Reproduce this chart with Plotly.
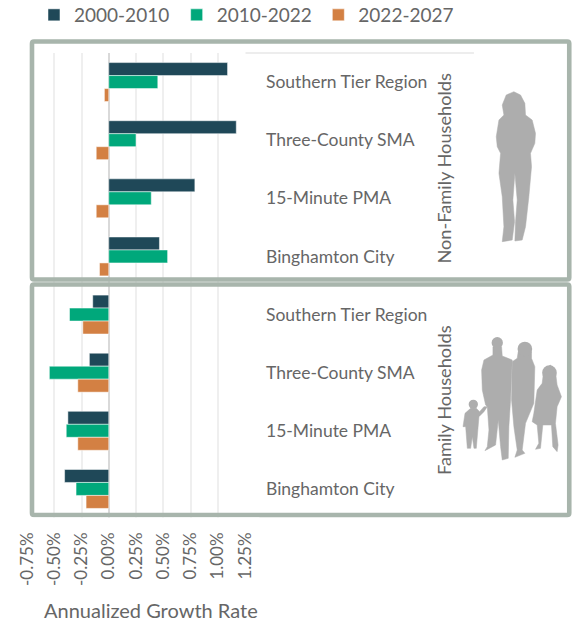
import plotly.graph_objects as go

W, H = 577, 622
L, R, T, B = 27, 245.5, 53, 518

regions = ["Southern Tier Region", "Three-County SMA", "15-Minute PMA", "Binghamton City"]
groups = ["Non-Family Households", "Family Households"]
periods = ["2000-2010", "2010-2022", "2022-2027"]
colors = ["#1F4858", "#00A87B", "#D38043"]

nonfamily_2000_2010 = [1.09, 1.17, 0.79, 0.465]
nonfamily_2010_2022 = [0.45, 0.25, 0.39, 0.54]
nonfamily_2022_2027 = [-0.04, -0.115, -0.115, -0.085]
family_2000_2010 = [-0.147, -0.178, -0.375, -0.405]
family_2010_2022 = [-0.36, -0.545, -0.39, -0.30]
family_2022_2027 = [-0.238, -0.284, -0.284, -0.208]

xticks = [-0.75, -0.5, -0.25, 0, 0.25, 0.5, 0.75, 1.0, 1.25]
xlabels = ["-0.75%", "-0.50%", "-0.25%", "0.00%", "0.25%", "0.50%", "0.75%", "1.00%", "1.25%"]

series = [nonfamily_2000_2010 + family_2000_2010,
          nonfamily_2010_2022 + family_2010_2022,
          nonfamily_2022_2027 + family_2022_2027]
ypos = list(range(8))
ylabels = regions + regions

FONT = "Lato"
TXT = "#666666"
SIL = "#ADADAD"
FRAME = "#A8B5AC"

def px(x): return (x - L) / (R - L)
def py(y): return (B - y) / (B - T)

fig = go.Figure()
legend_ids = ["legend", "legend2", "legend3"]
for name, vals, c, lg in zip(periods, series, colors, legend_ids):
    fig.add_bar(name=name, y=ypos, x=vals, orientation="h", marker_color=c,
                marker_line_color="#FFFFFF", marker_line_width=0.5, legend=lg)

def poly(points, ox, oy):
    pts = [(ox + a / 3, oy + b / 3) for a, b in points]
    return "M" + "L".join(f"{px(a):.4f},{py(b):.4f}" for a, b in pts) + "Z"

def sil(points, ox, oy):
    return dict(type="path", xref="paper", yref="paper", path=poly(points, ox, oy),
                fillcolor=SIL, line=dict(color=SIL, width=0.5))

def head(cx, cy, r, ox, oy):
    return dict(type="circle", xref="paper", yref="paper",
                x0=px(ox + (cx - r) / 3), x1=px(ox + (cx + r) / 3),
                y0=py(oy + (cy + r) / 3), y1=py(oy + (cy - r) / 3),
                fillcolor=SIL, line=dict(color=SIL, width=0))

def frame(x0, y0, x1, y1, r=2):
    a, b, c, d = px(x0), py(y0), px(x1), py(y1)
    rx, ry = r / (R - L), r / (B - T)
    path = (f"M{a+rx:.4f},{b:.4f}L{c-rx:.4f},{b:.4f}Q{c:.4f},{b:.4f} {c:.4f},{b-ry:.4f}"
            f"L{c:.4f},{d+ry:.4f}Q{c:.4f},{d:.4f} {c-rx:.4f},{d:.4f}"
            f"L{a+rx:.4f},{d:.4f}Q{a:.4f},{d:.4f} {a:.4f},{d+ry:.4f}"
            f"L{a:.4f},{b-ry:.4f}Q{a:.4f},{b:.4f} {a+rx:.4f},{b:.4f}Z")
    return dict(type="path", xref="paper", yref="paper", path=path,
                line=dict(color=FRAME, width=4.6))

woman = [(285,155),(262,165),(250,195),(255,225),(240,240),(232,290),(235,320),(245,340),(240,400),
         (250,470),(255,560),(250,605),(280,600),(287,545),(282,480),(288,400),(295,480),(290,545),
         (288,603),(310,600),(320,560),(330,470),(338,380),(335,340),(348,310),(350,280),(340,240),
         (320,225),(318,190),(305,165)]
man = [(222,200),(222,225),(195,240),(188,270),(190,330),(200,375),(205,380),(210,450),(205,500),
       (198,512),(230,495),(238,420),(245,500),(250,540),(268,535),(270,440),(275,360),(280,240),
       (250,228),(248,200)]
mother = [(298,215),(295,235),(280,245),(278,360),(285,440),(295,510),(288,532),(318,520),(310,510),
          (320,430),(345,370),(348,260),(338,235),(338,215)]
girl = [(375,270),(370,310),(355,330),(345,400),(340,425),(355,435),(360,490),(350,508),(365,505),
        (372,435),(398,435),(402,500),(415,515),(418,495),(410,430),(415,380),(428,350),(415,315),
        (410,275),(395,255)]
child = [(155,385),(138,400),(132,440),(140,440),(145,505),(155,505),(160,470),(165,505),(172,505),
         (180,410),(195,395),(205,380),(195,380),(182,395),(172,385)]

shapes = [
    dict(type="line", xref="paper", yref="paper", x0=px(246), x1=px(475), y0=py(53), y1=py(53),
         line=dict(color="#DCDCDC", width=1.2)),
    frame(32, 41.5, 570.5, 279.5),
    frame(32, 284.5, 570.5, 515),
    # white strip hides the grid below the lower frame
    dict(type="rect", xref="paper", yref="paper", x0=px(20), x1=px(260), y0=py(522), y1=py(517.5),
         fillcolor="white", line=dict(width=0)),
    sil(woman, 420, 40),
    sil(man, 420, 280), sil(mother, 420, 280), sil(girl, 420, 280), sil(child, 420, 280),
    head(235, 188, 17, 420, 280), head(318, 207, 22, 420, 280),
    head(392, 278, 22, 420, 280), head(163, 373, 14, 420, 280),
]

def label(text, x, y, angle=0, size=17):
    return dict(text=text, xref="paper", yref="paper", x=px(x), y=py(y), textangle=angle,
                xanchor="center", yanchor="middle", showarrow=False,
                font=dict(family=FONT, size=size, color=TXT))

annotations = [
    label(groups[0], 444.5, 168, -90, 18.2),
    label(groups[1], 444.5, 400.5, -90, 18.2),
    label("Annualized Growth Rate", 151, 610, 0, 20),
]

def legend_at(x):
    return dict(orientation="h", x=px(x), xanchor="left", y=py(15), yanchor="middle",
                font=dict(family=FONT, size=19, color=TXT), bgcolor="rgba(0,0,0,0)")

fig.update_layout(
    width=W, height=H,
    margin=dict(l=L, r=W - R, t=T, b=H - B, pad=0, autoexpand=False),
    paper_bgcolor="white", plot_bgcolor="white",
    font=dict(family=FONT, size=17, color=TXT),
    barmode="group", bargap=0.33, bargroupgap=0,
    showlegend=True,
    legend=legend_at(34), legend2=legend_at(177), legend3=legend_at(319),
    xaxis=dict(range=[-0.75, 1.25], tickvals=xticks, ticktext=xlabels, tickangle=-90,
               showgrid=True, gridcolor="#EFEFEF", gridwidth=1.5, zeroline=True,
               zerolinecolor="#D9D9D9", zerolinewidth=1.5, showline=False, ticks="",
               automargin=False,
               ticklabelstandoff=10, tickfont=dict(family=FONT, size=17, color=TXT)),
    yaxis=dict(range=[7.5, -0.5], tickvals=ypos, ticktext=ylabels, side="right", showgrid=False,
               zeroline=False, showline=False, ticks="", ticklabelstandoff=20, automargin=False,
               tickfont=dict(family=FONT, size=17.5, color=TXT)),
    shapes=shapes, annotations=annotations,
)
fig.write_html("out.html", config={"displayModeBar": False},
               post_script="document.body.style.margin='0';")
